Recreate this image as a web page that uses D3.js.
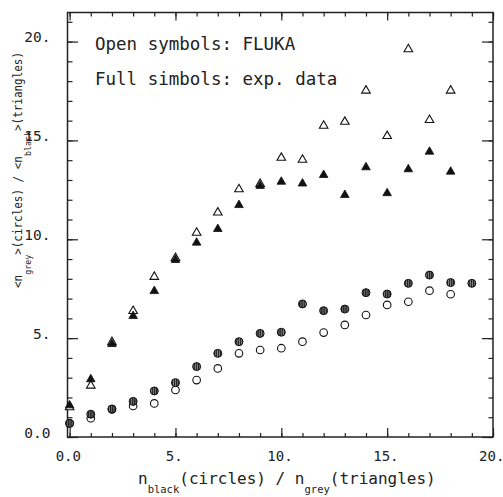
<!DOCTYPE html>
<html>
<head>
<meta charset="utf-8">
<script src="https://cdn.jsdelivr.net/npm/d3@7"></script>
<style>
  body { margin: 0; background: #fff; }
  text { font-family: "DejaVu Sans Mono", monospace; fill: #222; }
</style>
</head>
<body>
<div id="chart"></div>
<script>
const W = 503, H = 497;
const frame = {left: 67.5, right: 493, top: 12.5, bottom: 437};

// n values (x positions of the points)
const nTriangles = d3.range(0, 19);
const nCircles = d3.range(0, 20);

// <n_black> vs n_grey (triangles)
const triFluka = [1.5, 2.6, 4.8, 6.37, 8.1, 9.05, 10.33, 11.35, 12.53, 12.8,
                  14.12, 14.02, 15.74, 15.94, 17.52, 15.22, 19.61, 16.03, 17.52];
const triExp   = [1.6, 2.92, 4.7, 6.12, 7.38, 8.95, 9.83, 10.52, 11.73, 12.7,
                  12.91, 12.82, 13.25, 12.24, 13.64, 12.33, 13.54, 14.43, 13.42];

// <n_grey> vs n_black (circles)
const circFluka = [0.69, 0.95, 1.4, 1.57, 1.7, 2.38, 2.88, 3.47, 4.23, 4.40,
                   4.49, 4.82, 5.28, 5.67, 6.17, 6.68, 6.84, 7.40, 7.22];
const circExp   = [0.69, 1.15, 1.42, 1.8, 2.33, 2.75, 3.56, 4.23, 4.82, 5.24,
                   5.30, 6.73, 6.39, 6.47, 7.30, 7.23, 7.77, 8.19, 7.81, 7.77];

const xMajor = [0, 5, 10, 15, 20];
const yMajor = [0, 5, 10, 15, 20];
const xLabels = ["0.0", "5.", "10.", "15.", "20."];
const yLabels = ["0.0", "5.", "10.", "15.", "20."];

const svg = d3.select("#chart").append("svg")
  .attr("width", W).attr("height", H);

svg.append("rect").attr("width", W).attr("height", H).attr("fill", "#fff");

const defs = svg.append("defs");
const pat = defs.append("pattern")
  .attr("id", "stripes")
  .attr("patternUnits", "userSpaceOnUse")
  .attr("width", 2.2).attr("height", 4);
pat.append("rect").attr("width", 2.2).attr("height", 4).attr("fill", "#1e1e1e");
pat.append("rect").attr("x", 1.3).attr("width", 0.9).attr("height", 4).attr("fill", "#8a8a8a");

const x = d3.scaleLinear().domain([-0.1, 20]).range([frame.left, frame.right]);
const y = d3.scaleLinear().domain([0, 21.47]).range([frame.bottom, frame.top]);

// axes: minor + major ticks on all four sides, pointing inward
function styleAxis(g) {
  g.select(".domain").remove();
  g.selectAll(".tick line").attr("stroke", "#222").attr("stroke-width", 1.2);
}

svg.append("g").attr("transform", `translate(0,${frame.bottom})`)
  .call(d3.axisBottom(x).tickValues(d3.range(0, 21)).tickSize(-4).tickFormat(""))
  .call(styleAxis);
svg.append("g").attr("transform", `translate(0,${frame.bottom})`)
  .call(d3.axisBottom(x).tickValues(xMajor).tickSize(-9).tickPadding(14)
    .tickFormat((d, i) => xLabels[i]))
  .call(styleAxis)
  .call(g => g.selectAll("text").attr("dx", -1.8).attr("font-size", 14).attr("font-family", "DejaVu Sans Mono").attr("fill", "#222"));

svg.append("g").attr("transform", `translate(0,${frame.top})`)
  .call(d3.axisTop(x).tickValues(d3.range(0, 21)).tickSize(-4).tickFormat(""))
  .call(styleAxis);
svg.append("g").attr("transform", `translate(0,${frame.top})`)
  .call(d3.axisTop(x).tickValues(xMajor).tickSize(-8).tickFormat(""))
  .call(styleAxis);

svg.append("g").attr("transform", `translate(${frame.left},0)`)
  .call(d3.axisLeft(y).tickValues(d3.range(0, 22)).tickSize(-5).tickFormat(""))
  .call(styleAxis);
svg.append("g").attr("transform", `translate(${frame.left},0)`)
  .call(d3.axisLeft(y).tickValues(yMajor).tickSize(-10.5).tickPadding(17)
    .tickFormat((d, i) => yLabels[i]))
  .call(styleAxis)
  .call(g => g.selectAll("text").attr("dy", 0).attr("font-size", 14.5).attr("font-family", "DejaVu Sans Mono").attr("fill", "#222"));

svg.append("g").attr("transform", `translate(${frame.right},0)`)
  .call(d3.axisRight(y).tickValues(d3.range(0, 22)).tickSize(-4.5).tickFormat(""))
  .call(styleAxis);
svg.append("g").attr("transform", `translate(${frame.right},0)`)
  .call(d3.axisRight(y).tickValues(yMajor).tickSize(-11).tickFormat(""))
  .call(styleAxis);

// frame
svg.append("rect")
  .attr("x", frame.left).attr("y", frame.top)
  .attr("width", frame.right - frame.left).attr("height", frame.bottom - frame.top)
  .attr("fill", "none").attr("stroke", "#222").attr("stroke-width", 1.5);

// points
const tri = d3.symbol().type(d3.symbolTriangle).size(32)();

svg.append("g").selectAll("circle")
  .data(circFluka)
  .join("circle")
  .attr("cx", (d, i) => x(nCircles[i]))
  .attr("cy", d => y(d))
  .attr("r", 3.8)
  .attr("fill", "#fff").attr("stroke", "#111").attr("stroke-width", 1.1);

svg.append("g").selectAll("circle")
  .data(circExp)
  .join("circle")
  .attr("cx", (d, i) => x(nCircles[i]))
  .attr("cy", d => y(d))
  .attr("r", 4)
  .attr("fill", "url(#stripes)").attr("stroke", "#111").attr("stroke-width", 1);

svg.append("g").selectAll("path")
  .data(triFluka)
  .join("path")
  .attr("d", tri)
  .attr("transform", (d, i) => `translate(${x(nTriangles[i])},${y(d)})`)
  .attr("fill", "#fff").attr("stroke", "#111").attr("stroke-width", 1.1);

svg.append("g").selectAll("path")
  .data(triExp)
  .join("path")
  .attr("d", tri)
  .attr("transform", (d, i) => `translate(${x(nTriangles[i])},${y(d)})`)
  .attr("fill", "#111").attr("stroke", "#111").attr("stroke-width", 0.8);

// legend notes
svg.append("text").attr("x", 95).attr("y", 50).attr("font-size", 17.5)
  .attr("fill", "#2a2a2a").text("Open symbols: FLUKA");
svg.append("text").attr("x", 95).attr("y", 85).attr("font-size", 17.5)
  .attr("fill", "#2a2a2a").text("Full simbols: exp. data");

// x title
const xt = svg.append("text").attr("x", 138).attr("y", 484).attr("font-size", 16);
xt.append("tspan").text("n");
xt.append("tspan").attr("dy", 9).attr("font-size", 10.5).text("black");
xt.append("tspan").attr("dy", -9).text("(circles) / n");
xt.append("tspan").attr("dy", 9).attr("font-size", 10.5).text("grey");
xt.append("tspan").attr("dy", -9).text("(triangles)");

// y title
const yt = svg.append("text").attr("transform", "translate(22,288) rotate(-90)")
  .attr("font-size", 12.5)
  .attr("textLength", 236).attr("lengthAdjust", "spacingAndGlyphs");
yt.append("tspan").text("<n");
yt.append("tspan").attr("dy", 9).attr("font-size", 9.5).text("grey");
yt.append("tspan").attr("dy", -9).text(">(circles) / <n");
yt.append("tspan").attr("dy", 9).attr("font-size", 9.5).text("black");
yt.append("tspan").attr("dy", -9).text(">(triangles)");
</script>
</body>
</html>
